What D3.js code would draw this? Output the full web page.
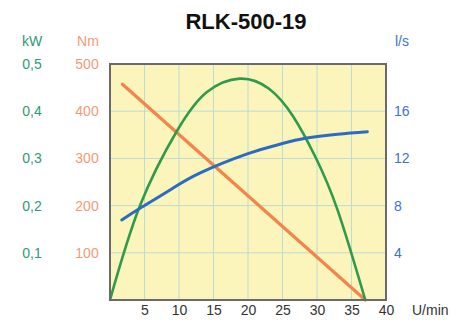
<!DOCTYPE html>
<html><head><meta charset="utf-8">
<script src="https://cdn.jsdelivr.net/npm/d3@7"></script>
<style>
html,body{margin:0;padding:0;background:#fff;}
text{font-family:"Liberation Sans",Arial,sans-serif;}
</style></head>
<body>
<svg id="c" width="469" height="320"></svg>
<script>
// ---- data ----
const title = "RLK-500-19";
const xTicks = [5, 10, 15, 20, 25, 30, 35, 40];
const kwTicks = [0.1, 0.2, 0.3, 0.4, 0.5];
const kwTickLabels = ["0,1", "0,2", "0,3", "0,4", "0,5"];
const nmTicks = [100, 200, 300, 400, 500];
const lsTicks = [4, 8, 12, 16];

const torqueSpeed = [1.8, 37.0];
const torqueNm = [457, 0];

const powerSpeed = [0, 4.35, 9.7, 14, 18.8, 23, 26.5, 29.7, 33, 37.0];
const powerKW = [0, 0.2, 0.358, 0.44, 0.469, 0.448, 0.39, 0.305, 0.19, 0];

const flowSpeed = [1.7, 4.35, 8.7, 13, 20, 24.6, 28.3, 33, 37.3];
const flowLs = [6.78, 7.77, 9.32, 10.75, 12.4, 13.2, 13.7, 14.05, 14.26];

// ---- layout ----
const svg = d3.select("#c");
const L = 110, T = 64, R = 386, B = 300;
const x = d3.scaleLinear().domain([0, 40]).range([L, R]);
const yKW = d3.scaleLinear().domain([0, 0.5]).range([B, T]);
const yNm = d3.scaleLinear().domain([0, 500]).range([B, T]);
const yLs = d3.scaleLinear().domain([0, 20]).range([B, T]);

const cGreen = "#2f9a4c", cOrange = "#f4844c", cBlue = "#2b6cc0";
const tGreen = "#2e9a78", tOrange = "#f39a78", tBlue = "#3d72d6";

// plot background
svg.append("rect").attr("x", L).attr("y", T).attr("width", R - L).attr("height", B - T)
  .attr("fill", "#fbf5bb");

// grid
const g = svg.append("g").attr("stroke", "#bcdcd2").attr("stroke-width", 1);
xTicks.filter(d => d < 40).forEach(d => {
  g.append("line").attr("x1", x(d)).attr("x2", x(d)).attr("y1", T).attr("y2", B);
});
nmTicks.filter(d => d < 500).forEach(d => {
  g.append("line").attr("x1", L).attr("x2", R).attr("y1", yNm(d)).attr("y2", yNm(d));
});

// curves
const line = (xs, ys, sx, sy) => d3.line().curve(d3.curveNatural)
  .x((d, i) => sx(xs[i])).y((d, i) => sy(ys[i]))(xs);

svg.append("path").attr("d", line(torqueSpeed, torqueNm, x, yNm))
  .attr("fill", "none").attr("stroke", cOrange).attr("stroke-width", 3.2).attr("stroke-linecap", "round");
svg.append("path").attr("d", line(powerSpeed, powerKW, x, yKW))
  .attr("fill", "none").attr("stroke", cGreen).attr("stroke-width", 2.6);
svg.append("path").attr("d", line(flowSpeed, flowLs, x, yLs))
  .attr("fill", "none").attr("stroke", cBlue).attr("stroke-width", 3).attr("stroke-linecap", "round");

// frame
svg.append("rect").attr("x", L).attr("y", T).attr("width", R - L).attr("height", B - T)
  .attr("fill", "none").attr("stroke", "#6a6a6a").attr("stroke-width", 2);

// axes (labels only, no tick lines)
const fs = 14;
const axKW = svg.append("g").attr("transform", "translate(32,0)")
  .call(d3.axisLeft(yKW).tickValues(kwTicks).tickSize(0).tickPadding(0)
    .tickFormat((d, i) => kwTickLabels[i]));
axKW.select(".domain").remove();
axKW.selectAll("text").attr("text-anchor", "middle").attr("fill", tGreen)
  .style("font-size", fs + "px").style("font-family", "Liberation Sans, Arial, sans-serif");

const axNm = svg.append("g").attr("transform", "translate(87,0)")
  .call(d3.axisLeft(yNm).tickValues(nmTicks).tickSize(0).tickPadding(0));
axNm.select(".domain").remove();
axNm.selectAll("text").attr("text-anchor", "middle").attr("fill", tOrange)
  .style("font-size", fs + "px").style("font-family", "Liberation Sans, Arial, sans-serif");

const axLs = svg.append("g").attr("transform", "translate(394,0)")
  .call(d3.axisRight(yLs).tickValues(lsTicks).tickSize(0).tickPadding(0));
axLs.select(".domain").remove();
axLs.selectAll("text").attr("text-anchor", "start").attr("fill", tBlue)
  .style("font-size", fs + "px").style("font-family", "Liberation Sans, Arial, sans-serif");

const axX = svg.append("g").attr("transform", `translate(0,${B + 5})`)
  .call(d3.axisBottom(x).tickValues(xTicks).tickSize(0).tickPadding(0));
axX.select(".domain").remove();
axX.selectAll("text").attr("fill", "#333")
  .style("font-size", fs + "px").style("font-family", "Liberation Sans, Arial, sans-serif");

// unit labels
svg.append("text").attr("x", 32).attr("y", 46).attr("text-anchor", "middle")
  .attr("fill", tGreen).style("font-size", fs + "px").text("kW");
svg.append("text").attr("x", 88).attr("y", 46).attr("text-anchor", "middle")
  .attr("fill", tOrange).style("font-size", fs + "px").text("Nm");
svg.append("text").attr("x", 395).attr("y", 46).attr("text-anchor", "start")
  .attr("fill", tBlue).style("font-size", fs + "px").text("l/s");
svg.append("text").attr("x", 412).attr("y", 315).attr("text-anchor", "start")
  .attr("fill", "#333").style("font-size", fs + "px").text("U/min");

// title
svg.append("text").attr("x", 246).attr("y", 29).attr("text-anchor", "middle")
  .attr("fill", "#111").style("font-size", "22px").style("font-weight", "bold").text(title);
</script>
</body></html>
